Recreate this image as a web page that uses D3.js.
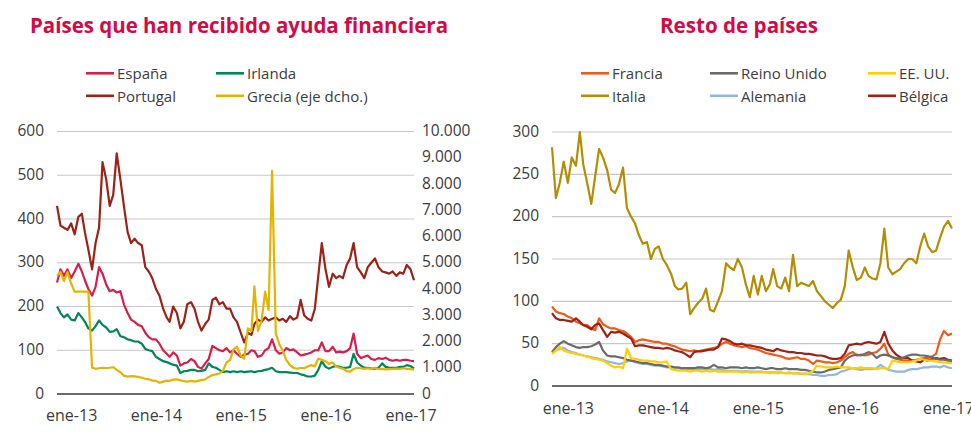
<!DOCTYPE html>
<html>
<head>
<meta charset="utf-8">
<script src="https://cdn.jsdelivr.net/npm/d3@7"></script>
<style>
body { margin: 0; background: #fff; }
text { font-family: "Open Sans", "Noto Sans", sans-serif; }
</style>
</head>
<body>
<div id="chart-area"></div>
<script>
// Fechas quincenales: 1-nov-2012 ... 16-ene-2017 (102 puntos)
var fechas = d3.range(102).map(function(i) {
    return new Date(2012, 10 + Math.floor(i / 2), i % 2 ? 16 : 1);
});

var ticksX = [new Date(2013, 0, 1), new Date(2014, 0, 1), new Date(2015, 0, 1), new Date(2016, 0, 1), new Date(2017, 0, 1)];
var etiquetasX = ["ene-13", "ene-14", "ene-15", "ene-16", "ene-17"];

var ticksIzq = [0, 100, 200, 300, 400, 500, 600];
var ticksDcho = [0, 1000, 2000, 3000, 4000, 5000, 6000, 7000, 8000, 9000, 10000];
var ticksResto = [0, 50, 100, 150, 200, 250, 300];

// Países que han recibido ayuda financiera (pb)
var espana = [255, 285, 270, 285, 265, 280, 298, 280, 260, 240, 225, 245, 290, 275, 250, 235, 238, 232, 235, 205,
    185, 170, 165, 158, 155, 140, 130, 125, 125, 115, 100, 92, 85, 95, 88, 65, 70, 72, 80, 75,
    62, 58, 70, 80, 110, 105, 100, 98, 105, 95, 100, 92, 85, 90, 92, 100, 98, 85, 88, 100,
    105, 125, 100, 92, 95, 105, 100, 102, 95, 88, 90, 92, 95, 100, 100, 118, 98, 98, 108, 95,
    97, 95, 98, 105, 138, 92, 82, 85, 88, 80, 78, 82, 80, 83, 78, 76, 78, 76, 78, 78,
    76, 75];
var portugal = [430, 385, 380, 375, 390, 365, 405, 412, 370, 330, 285, 345, 380, 530, 490, 430, 455, 550, 490, 430,
    370, 345, 355, 345, 340, 290, 280, 265, 240, 225, 195, 175, 165, 200, 185, 150, 165, 205, 210, 195,
    165, 145, 160, 170, 215, 220, 205, 210, 195, 195, 175, 165, 140, 118, 140, 135, 160, 170, 165, 175,
    168, 172, 175, 168, 172, 165, 178, 170, 175, 215, 180, 172, 168, 195, 270, 345, 285, 245, 275, 265,
    270, 265, 295, 310, 345, 290, 278, 265, 290, 300, 310, 290, 280, 278, 275, 280, 270, 278, 275, 295,
    285, 260];
var irlanda = [200, 185, 175, 182, 170, 168, 185, 175, 165, 150, 145, 155, 168, 158, 152, 142, 143, 148, 132, 130,
    125, 123, 120, 120, 115, 103, 100, 98, 85, 80, 75, 73, 70, 67, 65, 48, 52, 53, 55, 55,
    52, 53, 55, 70, 62, 60, 55, 50, 52, 50, 52, 50, 52, 50, 51, 52, 50, 52, 53, 55,
    57, 60, 52, 50, 50, 50, 49, 48, 48, 45, 43, 40, 40, 42, 55, 75, 62, 58, 62, 64,
    62, 60, 60, 62, 92, 72, 65, 60, 60, 58, 58, 60, 70, 62, 60, 60, 60, 62, 62, 66,
    64, 58];
// Grecia, eje derecho
var grecia = [4500, 4650, 4300, 4650, 4200, 3900, 3900, 3900, 3900, 3900, 1000, 960, 980, 1000, 990, 1000, 1020, 920, 830, 700,
    660, 680, 670, 650, 620, 580, 560, 520, 500, 430, 470, 510, 500, 550, 560, 520, 490, 470, 500, 470,
    500, 530, 560, 650, 720, 750, 780, 880, 1200, 1300, 1700, 1800, 1450, 1350, 2500, 2400, 4100, 2400, 2800, 3900,
    3200, 8500, 2300, 1900, 1650, 1300, 1100, 1000, 960, 1000, 980, 1050, 1100, 1050, 1350, 1300, 1250, 1150, 1200, 1050,
    1000, 960, 870, 850, 950, 1000, 980, 960, 980, 950, 1000, 950, 960, 940, 950, 960, 970, 960, 980, 960,
    950, 930];

// Resto de países (pb)
var francia = [94, 88, 86, 85, 82, 80, 76, 74, 72, 72, 68, 66, 80, 73, 70, 68, 68, 66, 65, 62,
    58, 52, 54, 55, 54, 53, 52, 52, 50, 50, 48, 47, 45, 43, 42, 41, 42, 41, 42, 43,
    44, 45, 46, 50, 52, 50, 48, 47, 46, 47, 45, 44, 43, 41, 39, 38, 37, 36, 35, 33,
    32, 33, 34, 32, 32, 30, 26, 30, 29, 28, 28, 27, 28, 30, 34, 38, 40, 36, 37, 36,
    37, 39, 40, 44, 50, 37, 34, 32, 31, 30, 30, 30, 31, 32, 33, 33, 35, 38, 55, 65,
    60, 62];
var italia = [282, 222, 240, 265, 240, 270, 260, 300, 262, 240, 215, 248, 280, 270, 255, 232, 228, 238, 258, 210,
    200, 192, 178, 168, 170, 150, 162, 165, 150, 143, 133, 118, 114, 115, 122, 85, 92, 98, 103, 115,
    90, 88, 100, 112, 145, 140, 137, 150, 140, 120, 105, 130, 108, 130, 112, 120, 138, 118, 115, 128,
    112, 155, 118, 122, 120, 118, 124, 112, 106, 100, 96, 92, 98, 102, 118, 160, 140, 125, 128, 140,
    130, 127, 126, 145, 186, 140, 132, 135, 138, 145, 150, 150, 145, 165, 180, 165, 158, 160, 175, 188,
    195, 186];
var reinoUnido = [40, 46, 50, 53, 50, 48, 46, 45, 46, 46, 47, 49, 52, 42, 36, 35, 35, 34, 33, 31,
    30, 29, 28, 27, 27, 26, 25, 25, 24, 23, 23, 22, 22, 21, 21, 21, 21, 22, 22, 21,
    22, 25, 22, 22, 21, 22, 22, 22, 21, 22, 21, 21, 22, 21, 20, 21, 21, 20, 20, 21,
    20, 20, 20, 19, 19, 18, 17, 16, 16, 17, 19, 20, 21, 22, 30, 34, 36, 37, 36, 38,
    40, 38, 33, 36, 37, 36, 34, 33, 32, 34, 36, 37, 37, 36, 36, 35, 34, 32, 31, 31,
    30, 30];
var alemania = [40, 42, 44, 45, 42, 40, 39, 37, 36, 35, 34, 33, 32, 31, 29, 28, 27, 26, 27, 29,
    30, 28, 27, 26, 26, 25, 24, 24, 23, 22, 22, 21, 21, 20, 20, 20, 20, 20, 20, 20,
    20, 19, 20, 19, 18, 18, 18, 18, 17, 18, 17, 17, 17, 17, 16, 16, 16, 16, 16, 15,
    16, 15, 15, 14, 15, 14, 13, 13, 12, 12, 13, 13, 14, 17, 18, 20, 21, 20, 19, 20,
    20, 20, 21, 25, 22, 19, 18, 17, 17, 17, 19, 20, 20, 21, 22, 22, 23, 23, 22, 24,
    22, 21];
var eeuu = [38, 42, 46, 42, 40, 39, 38, 37, 36, 35, 33, 32, 31, 30, 27, 24, 22, 23, 21, 44,
    33, 32, 31, 30, 30, 29, 29, 28, 28, 29, 20, 19, 18, 18, 18, 17, 18, 18, 17, 18,
    17, 18, 17, 17, 17, 17, 17, 17, 16, 17, 16, 16, 16, 16, 16, 15, 16, 15, 16, 15,
    15, 15, 15, 15, 14, 15, 18, 24, 23, 22, 22, 22, 23, 22, 22, 22, 21, 21, 22, 21,
    21, 21, 20, 21, 21, 20, 30, 29, 28, 28, 28, 29, 30, 32, 31, 30, 30, 29, 28, 28,
    27, 27];
var belgica = [86, 80, 78, 78, 77, 76, 80, 76, 72, 70, 67, 72, 74, 66, 58, 64, 63, 64, 62, 59,
    56, 47, 48, 48, 47, 46, 45, 45, 44, 45, 44, 42, 41, 40, 37, 34, 40, 41, 41, 42,
    43, 43, 46, 56, 55, 53, 50, 49, 50, 48, 48, 47, 46, 45, 43, 42, 41, 44, 42, 41,
    40, 40, 39, 39, 38, 38, 37, 36, 36, 35, 33, 32, 32, 33, 38, 48, 49, 50, 49, 51,
    52, 51, 50, 52, 64, 50, 42, 37, 34, 33, 33, 30, 29, 28, 31, 30, 32, 33, 32, 33,
    31, 30];

var svg = d3.select("#chart-area").append("svg")
    .attr("width", 971)
    .attr("height", 446);

var rojoTitulo = "#d20a45";
var colorTexto = "#3c3c3c";

var es = d3.formatLocale({decimal: ",", thousands: ".", grouping: [3], currency: ["", " €"]});
var fmtMiles = es.format(",");

// ---------- Panel izquierdo ----------
var xIzq = d3.scaleTime()
    .domain([fechas[0], fechas[fechas.length - 1]])
    .range([57, 414]);
var yIzq = d3.scaleLinear().domain([0, 600]).range([394, 131.5]);
var yDcho = d3.scaleLinear().domain([0, 10000]).range([394, 131.5]);

// ---------- Panel derecho ----------
var xDer = d3.scaleTime()
    .domain([fechas[0], fechas[fechas.length - 1]])
    .range([552, 952]);
var yDer = d3.scaleLinear().domain([0, 300]).range([386, 132]);

function rejilla(x, y, valores) {
    var g = svg.append("g");
    g.selectAll("line")
        .data(valores)
        .enter()
        .append("line")
        .attr("x1", x.range()[0])
        .attr("x2", x.range()[1])
        .attr("y1", function(d) { return y(d); })
        .attr("y2", function(d) { return y(d); })
        .attr("stroke", function(d) { return d == 0 ? "#3a3a3a" : "#c8c8c8"; })
        .attr("stroke-width", function(d) { return d == 0 ? 1.6 : 1.1; });
}

function estiloEje(g, size) {
    g.select(".domain").remove();
    g.selectAll("line").remove();
    g.attr("font-family", null).attr("font-size", null);
    g.selectAll("text")
        .style("font-family", '"Open Sans", "Noto Sans", sans-serif')
        .style("font-size", size + "px")
        .attr("fill", colorTexto);
}

rejilla(xIzq, yIzq, ticksIzq);
rejilla(xDer, yDer, ticksResto);

// ejes Y
var ejeIzq = svg.append("g")
    .attr("transform", "translate(57,0)")
    .call(d3.axisLeft(yIzq).tickValues(ticksIzq).tickSize(0).tickPadding(13));
estiloEje(ejeIzq, 15.5);
ejeIzq.selectAll("text").attr("dy", "0.26em");

var ejeDcho = svg.append("g")
    .attr("transform", "translate(414,0)")
    .call(d3.axisRight(yDcho).tickValues(ticksDcho).tickSize(0).tickPadding(8).tickFormat(fmtMiles));
estiloEje(ejeDcho, 15.5);
ejeDcho.selectAll("text").attr("dy", "0.26em");

var ejeResto = svg.append("g")
    .attr("transform", "translate(552,0)")
    .call(d3.axisLeft(yDer).tickValues(ticksResto).tickSize(0).tickPadding(13));
estiloEje(ejeResto, 15.5);
ejeResto.selectAll("text").attr("dy", "0.26em");

// ejes X
var ejeXIzq = svg.append("g")
    .attr("transform", "translate(0,409.5)")
    .call(d3.axisBottom(xIzq).tickValues(ticksX).tickSize(0).tickPadding(0)
        .tickFormat(function(d, i) { return etiquetasX[i]; }));
estiloEje(ejeXIzq, 16);

var ejeXDer = svg.append("g")
    .attr("transform", "translate(0,402.5)")
    .call(d3.axisBottom(xDer).tickValues(ticksX).tickSize(0).tickPadding(0)
        .tickFormat(function(d, i) { return etiquetasX[i]; }));
estiloEje(ejeXDer, 16);

// series
var seriesIzq = [
    {nombre: "España", valores: espana, color: "#d41e4b", y: yIzq},
    {nombre: "Portugal", valores: portugal, color: "#9a2216", y: yIzq},
    {nombre: "Irlanda", valores: irlanda, color: "#00865a", y: yIzq},
    {nombre: "Grecia (eje dcho.)", valores: grecia, color: "#e3b500", y: yDcho}
];
var seriesDer = [
    {nombre: "Francia", valores: francia, color: "#ee5a19"},
    {nombre: "Italia", valores: italia, color: "#b38e05"},
    {nombre: "Reino Unido", valores: reinoUnido, color: "#6b6b6b"},
    {nombre: "Alemania", valores: alemania, color: "#92b7dc"},
    {nombre: "EE. UU.", valores: eeuu, color: "#ffd000"},
    {nombre: "Bélgica", valores: belgica, color: "#9a2216"}
];

function dibujarLinea(s, x, y) {
    var linea = d3.line()
        .x(function(d, i) { return x(fechas[i]); })
        .y(function(d) { return y(d); });
    svg.append("path")
        .datum(s.valores)
        .attr("fill", "none")
        .attr("stroke", s.color)
        .attr("stroke-width", 2.2)
        .attr("stroke-linejoin", "round")
        .attr("d", linea);
}

// orden de dibujo
[seriesIzq[1], seriesIzq[0], seriesIzq[2], seriesIzq[3]].forEach(function(s) { dibujarLinea(s, xIzq, s.y); });
[seriesDer[1], seriesDer[0], seriesDer[5], seriesDer[3], seriesDer[2], seriesDer[4]].forEach(function(s) { dibujarLinea(s, xDer, yDer); });

// títulos
svg.append("text")
    .attr("x", 239).attr("y", 33)
    .attr("text-anchor", "middle")
    .attr("fill", rojoTitulo)
    .attr("font-weight", 700)
    .attr("font-size", 20.5)
    .attr("textLength", 418)
    .attr("lengthAdjust", "spacingAndGlyphs")
    .text("Países que han recibido ayuda financiera");

svg.append("text")
    .attr("x", 739).attr("y", 33)
    .attr("text-anchor", "middle")
    .attr("fill", rojoTitulo)
    .attr("font-weight", 700)
    .attr("font-size", 20.5)
    .attr("textLength", 158)
    .attr("lengthAdjust", "spacingAndGlyphs")
    .text("Resto de países");

// leyendas
function leyenda(series, columnas, filas) {
    var g = svg.append("g");
    var items = g.selectAll("g")
        .data(series)
        .enter()
        .append("g")
        .attr("transform", function(d, i) {
            return "translate(" + columnas[i] + "," + filas[i] + ")";
        });
    items.append("line")
        .attr("x1", 0).attr("x2", 28)
        .attr("y1", 0).attr("y2", 0)
        .attr("stroke", function(d) { return d.color; })
        .attr("stroke-width", 2.6);
    items.append("text")
        .attr("x", 31).attr("y", 5.8)
        .attr("font-size", 15)
        .attr("fill", colorTexto)
        .text(function(d) { return d.nombre; });
}

leyenda(seriesIzq, [86, 86, 216, 216], [73.3, 95.8, 73.3, 95.8]);
leyenda(seriesDer, [581, 581, 710, 710, 868, 868], [73.3, 95.8, 73.3, 95.8, 73.3, 95.8]);
</script>
</body>
</html>
